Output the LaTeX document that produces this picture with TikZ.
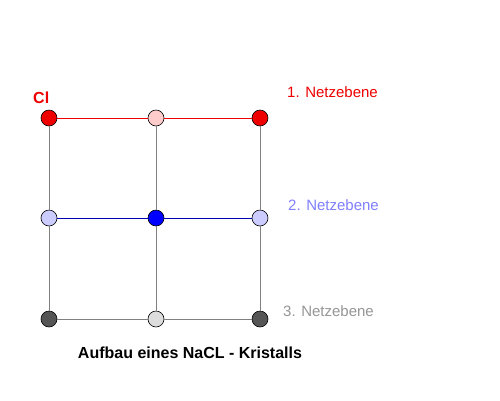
\documentclass[tikz,border=0pt]{standalone}
\usepackage{fontspec}
\setmainfont{Liberation Sans}
\begin{document}
\begin{tikzpicture}[x=1pt,y=-1pt,
  atom/.style={circle,draw=black,line width=0.6pt,minimum size=16pt,inner sep=0pt},
  vline/.style={draw={rgb,255:red,128;green,128;blue,128},line width=1pt},
  lbl/.style={font=\fontsize{15}{15}\selectfont,anchor=west,inner sep=0pt}]
\definecolor{cred}{RGB}{238,0,0}
\definecolor{cpink}{RGB}{255,204,204}
\definecolor{clav}{RGB}{204,204,255}
\definecolor{cblue}{RGB}{0,0,255}
\definecolor{cdark}{RGB}{85,85,85}
\definecolor{clgray}{RGB}{221,221,221}
\definecolor{lblblue}{RGB}{128,128,255}
\definecolor{lblgray}{RGB}{150,150,150}
\definecolor{lineblue}{RGB}{0,0,176}
\fill[white] (0,0) rectangle (500,400);
\useasboundingbox (0,0) rectangle (500,400);
\node[atom,fill=cred] (a11) at (49,118) {};
\node[atom,fill=cpink] (a12) at (156,118) {};
\node[atom,fill=cred] (a13) at (260,118) {};
\node[atom,fill=clav] (a21) at (49,218) {};
\node[atom,fill=cblue] (a22) at (156,218) {};
\node[atom,fill=clav] (a23) at (260,218) {};
\node[atom,fill=cdark] (a31) at (49,319) {};
\node[atom,fill=clgray] (a32) at (156,319) {};
\node[atom,fill=cdark] (a33) at (260,319) {};
\draw[vline] (a11) -- (a21); \draw[vline] (a21) -- (a31);
\draw[vline] (a12) -- (a22); \draw[vline] (a22) -- (a32);
\draw[vline] (a13) -- (a23); \draw[vline] (a23) -- (a33);
\draw[cred,line width=1pt] (a11) -- (a12); \draw[cred,line width=1pt] (a12) -- (a13);
\draw[lineblue,line width=1pt] (a21) -- (a22); \draw[lineblue,line width=1pt] (a22) -- (a23);
\draw[vline] (a31) -- (a32); \draw[vline] (a32) -- (a33);
\node[lbl,text=cred,font=\fontsize{16}{16}\selectfont\bfseries] (cl) at (33,98) {Cl};
\node[lbl,text=cred] (n1) at (287,92) {1. Netzebene};
\node[lbl,text=lblblue] (n2) at (288,205) {2. Netzebene};
\node[lbl,text=lblgray] (n3) at (283,311) {3. Netzebene};
\node[font=\fontsize{16}{16}\selectfont\bfseries,inner sep=0pt] (title) at (190,353) {Aufbau eines NaCL - Kristalls};
\end{tikzpicture}
\end{document}
